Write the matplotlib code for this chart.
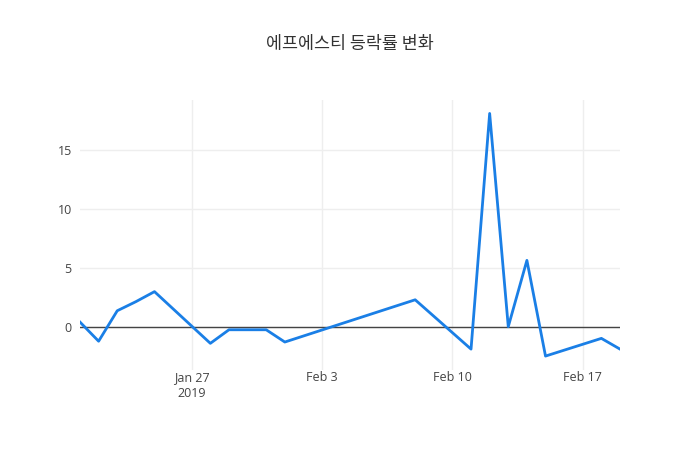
import numpy as np
import pandas as pd
import matplotlib
matplotlib.use("Agg")
import matplotlib.pyplot as plt
import matplotlib.dates as mdates

dates = ["2019-01-21", "2019-01-22", "2019-01-23", "2019-01-24", "2019-01-25",
         "2019-01-28", "2019-01-29", "2019-01-30", "2019-01-31", "2019-02-01",
         "2019-02-08", "2019-02-11", "2019-02-12", "2019-02-13", "2019-02-14",
         "2019-02-15", "2019-02-18", "2019-02-19"]
rates = [0.42, -1.2, 1.38, 2.15, 3.0,
         -1.38, -0.23, -0.23, -0.23, -1.27,
         2.31, -1.87, 18.1, 0.03, 5.65,
         -2.46, -0.96, -1.87]
title = "에프에스티 등락률 변화"

x = pd.to_datetime(dates)

plt.rcParams['font.family'] = ['Open Sans', 'DejaVu Sans']

fig = plt.figure(figsize=(7, 4.5), dpi=100)
ax = fig.add_axes([80 / 700, 80 / 450, 540 / 700, 270 / 450])

ax.plot(x, rates, color='#1a7fe6', linewidth=2, zorder=3)
ax.axhline(0, color='#444444', linewidth=1, zorder=2)

ax.set_xlim(x[0], x[-1])
ax.set_ylim(-3.64, 19.24)
ax.set_yticks([0, 5, 10, 15])

ticks = pd.to_datetime(["2019-01-27", "2019-02-03", "2019-02-10", "2019-02-17"])
ax.set_xticks(ticks)
ax.set_xticklabels(["Jan 27\n2019", "Feb 3", "Feb 10", "Feb 17"])

ax.grid(True, color='#eeeeee', linewidth=1, zorder=0)
for s in ax.spines.values():
    s.set_visible(False)
ax.tick_params(length=0, labelsize=9, labelcolor='#444444', pad=6)
ax.tick_params(axis='x', pad=1)
for lab in ax.get_xticklabels():
    lab.set_linespacing(1.25)
    lab.set_verticalalignment('top')

fig.text(0.5, 1 - 44 / 450, title, ha='center', va='center', fontsize=12.5,
         color='#333333', family=['Noto Sans CJK KR', 'DejaVu Sans'])

fig.savefig("out.png", dpi=100, facecolor='white')
